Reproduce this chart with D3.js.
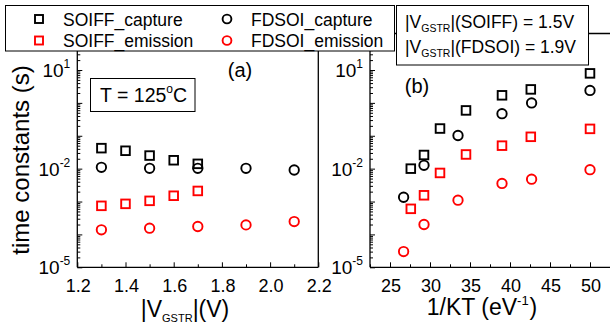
<!DOCTYPE html>
<html>
<head>
<meta charset="utf-8">
<script src="https://cdn.jsdelivr.net/npm/d3@7"></script>
<style>
  html, body { margin: 0; padding: 0; background: #fff; }
  svg { display: block; font-family: Arial, "Liberation Sans", Helvetica, sans-serif; }
</style>
</head>
<body>
<svg id="chart" width="610" height="326"></svg>
<script>
// ---- (a) time constants vs |VGSTR| at T = 125 °C ----
const vgSoiffCap = [1.3, 1.4, 1.5, 1.6, 1.7];
const tauSoiffCapA = [0.042, 0.035, 0.025, 0.018, 0.014];
const vgFdsoiCap = [1.3, 1.5, 1.7, 1.9, 2.1];
const tauFdsoiCapA = [0.011, 0.0102, 0.0102, 0.0102, 0.0091];
const vgSoiffEm = [1.3, 1.4, 1.5, 1.6, 1.7];
const tauSoiffEmA = [7.4e-4, 8.5e-4, 1.05e-3, 1.5e-3, 2.1e-3];
const vgFdsoiEm = [1.3, 1.5, 1.7, 1.9, 2.1];
const tauFdsoiEmA = [1.38e-4, 1.55e-4, 1.74e-4, 1.95e-4, 2.45e-4];

// ---- (b) time constants vs 1/kT ----
const ktSoiff = [27.6, 29.25, 31.25, 34.5, 39.0, 42.6, 50.0];
const tauSoiffCapB = [0.010, 0.026, 0.166, 0.59, 1.7, 2.57, 7.9];
const tauSoiffEmB = [6.0e-4, 1.55e-3, 7.4e-3, 0.027, 0.050, 0.093, 0.162];
const ktFdsoi = [26.7, 29.25, 33.5, 39.0, 42.7, 50.0];
const tauFdsoiCapB = [1.35e-3, 0.0126, 0.102, 0.47, 1.0, 2.4];
const tauFdsoiEmB = [3.0e-5, 2.0e-4, 1.1e-3, 3.55e-3, 4.8e-3, 9.3e-3];

// axis ticks
const xTicksA = [1.2, 1.4, 1.6, 1.8, 2.0, 2.2];
const xMinorA = [1.3, 1.5, 1.7, 1.9, 2.1];
const xTicksB = [25, 30, 35, 40, 45, 50];
const xMinorB = [22.5, 27.5, 32.5, 37.5, 42.5, 47.5, 52.5];
const yLabelExps = [1, -2, -5];

const legendItems = [
  { label: "SOIFF_capture", shape: "square", color: "#000" },
  { label: "FDSOI_capture", shape: "circle", color: "#000" },
  { label: "SOIFF_emission", shape: "square", color: "#f00" },
  { label: "FDSOI_emission", shape: "circle", color: "#f00" }
];

const svg = d3.select("#chart");

const yTop = 33.5, yBot = 267.3;
const y = d3.scaleLog().domain([1e-5, Math.pow(10, 2.11)]).range([yBot, yTop]);
const xA = d3.scaleLinear().domain([1.2, 2.2]).range([77.3, 318.3]);
const xB = d3.scaleLinear().domain([22.5, 55]).range([370, 630]);

const majorY = d3.range(-5, 3).map(e => Math.pow(10, e));
const minorY = [];
d3.range(-5, 2).forEach(e => { for (let k = 2; k <= 9; k++) minorY.push(k * Math.pow(10, e)); });

function panel(x, xMajor, xMinor, right, fmt) {
  const g = svg.append("g");
  const x0 = x.range()[0];
  const x1 = Math.min(x.range()[1], 640);
  // frame
  g.append("line").attr("x1", x0).attr("x2", x1).attr("y1", yTop).attr("y2", yTop)
    .attr("stroke", "#000").attr("stroke-width", 1.3);
  if (right) g.append("line").attr("x1", x1).attr("x2", x1).attr("y1", yTop).attr("y2", yBot)
    .attr("stroke", "#000").attr("stroke-width", 1.3);
  // y ticks (inward)
  g.append("g").attr("transform", `translate(${x0},0)`)
    .call(d3.axisRight(y).tickValues(majorY).tickSize(5).tickFormat(""))
    .call(s => s.select(".domain").remove());
  g.append("g").attr("transform", `translate(${x0},0)`)
    .call(d3.axisRight(y).tickValues(minorY).tickSize(3).tickFormat(""))
    .call(s => s.select(".domain").remove());
  // x ticks (inward)
  g.append("g").attr("transform", `translate(0,${yBot})`)
    .call(d3.axisTop(x).tickValues(xMajor).tickSize(5).tickFormat(""))
    .call(s => s.select(".domain").remove());
  g.append("g").attr("transform", `translate(0,${yBot})`)
    .call(d3.axisTop(x).tickValues(xMinor).tickSize(3).tickFormat(""))
    .call(s => s.select(".domain").remove());
  g.selectAll(".tick line").attr("stroke-width", 1);
  // axis lines
  g.append("line").attr("x1", x0).attr("x2", x0).attr("y1", yTop).attr("y2", yBot)
    .attr("stroke", "#000").attr("stroke-width", 1.3);
  g.append("line").attr("x1", x0).attr("x2", x1).attr("y1", yBot).attr("y2", yBot)
    .attr("stroke", "#000").attr("stroke-width", 1.3);
  // x tick labels
  g.selectAll(".xl").data(xMajor).enter().append("text")
    .attr("x", d => x(d) + 1).attr("y", 291.5).attr("text-anchor", "middle")
    .attr("font-size", 18)
    .text(fmt);
  // y tick labels 10^n
  yLabelExps.forEach(e => {
    const t = g.append("text").attr("x", x0 - 7).attr("y", y(Math.pow(10, e)) + 7)
      .attr("text-anchor", "end").attr("font-size", 19);
    t.append("tspan").text("10");
    t.append("tspan").attr("font-size", 12).attr("dy", -9).text(e);
  });
  return g;
}

panel(xA, xTicksA, xMinorA, true, d => d.toFixed(1));
panel(xB, xTicksB, xMinorB, false, d => String(d));

function drawSeries(x, xs, ys, shape, color) {
  const pts = xs.map((v, i) => [x(v), y(ys[i])]);
  if (shape === "square") {
    svg.append("g").selectAll("rect").data(pts).enter().append("rect")
      .attr("x", d => d[0] - 4.3).attr("y", d => d[1] - 4.3)
      .attr("width", 8.6).attr("height", 8.6)
      .attr("fill", "none").attr("stroke", color).attr("stroke-width", 1.9);
  } else {
    svg.append("g").selectAll("circle").data(pts).enter().append("circle")
      .attr("cx", d => d[0]).attr("cy", d => d[1]).attr("r", 4.7)
      .attr("fill", "none").attr("stroke", color).attr("stroke-width", 1.9);
  }
}

drawSeries(xA, vgSoiffCap, tauSoiffCapA, "square", "#000");
drawSeries(xA, vgFdsoiCap, tauFdsoiCapA, "circle", "#000");
drawSeries(xA, vgSoiffEm, tauSoiffEmA, "square", "#f00");
drawSeries(xA, vgFdsoiEm, tauFdsoiEmA, "circle", "#f00");
drawSeries(xB, ktSoiff, tauSoiffCapB, "square", "#000");
drawSeries(xB, ktFdsoi, tauFdsoiCapB, "circle", "#000");
drawSeries(xB, ktSoiff, tauSoiffEmB, "square", "#f00");
drawSeries(xB, ktFdsoi, tauFdsoiEmB, "circle", "#f00");

// panel tags
svg.append("text").attr("x", 240).attr("y", 77).attr("text-anchor", "middle")
  .attr("font-size", 20).text("(a)");
svg.append("text").attr("x", 417).attr("y", 93).attr("text-anchor", "middle")
  .attr("font-size", 20).text("(b)");

// temperature box
svg.append("rect").attr("x", 90.5).attr("y", 78.5).attr("width", 104.5).attr("height", 33)
  .attr("fill", "#fff").attr("stroke", "#000").attr("stroke-width", 1);
const tt = svg.append("text").attr("x", 100).attr("y", 102).attr("font-size", 19.5);
tt.append("tspan").text("T = 125");
tt.append("tspan").attr("font-size", 12).attr("dy", -9).text("o");
tt.append("tspan").attr("dy", 9).text("C");

// axis titles
svg.append("text").attr("transform", "translate(29,160) rotate(-90)")
  .attr("text-anchor", "middle").attr("font-size", 24).text("time constants (s)");
const xtA = svg.append("text").attr("x", 185).attr("y", 317).attr("text-anchor", "middle")
  .attr("font-size", 23);
xtA.append("tspan").text("|V");
xtA.append("tspan").attr("font-size", 11).attr("dy", 5).text("GSTR");
xtA.append("tspan").attr("dy", -5).text("|(V)");
const xtB = svg.append("text").attr("x", 482).attr("y", 315).attr("text-anchor", "middle")
  .attr("font-size", 23);
xtB.append("tspan").text("1/KT (eV");
xtB.append("tspan").attr("font-size", 13).attr("dy", -10).text("-1");
xtB.append("tspan").attr("dy", 10).attr("dx", 1).text(")");

// legend
svg.append("rect").attr("x", 5.5).attr("y", 5.5).attr("width", 389).attr("height", 45.5)
  .attr("fill", "#fff").attr("stroke", "#000").attr("stroke-width", 1);
const legPos = [[39, 19], [227, 19], [39, 40.5], [227, 40.5]];
legendItems.forEach((it, i) => {
  const [lx, ly] = legPos[i];
  if (it.shape === "square") {
    svg.append("rect").attr("x", lx - 4).attr("y", ly - 4).attr("width", 8).attr("height", 8)
      .attr("fill", "none").attr("stroke", it.color).attr("stroke-width", 1.9);
  } else {
    svg.append("circle").attr("cx", lx).attr("cy", ly).attr("r", 4.4)
      .attr("fill", "none").attr("stroke", it.color).attr("stroke-width", 1.9);
  }
  svg.append("text").attr("x", lx + 24).attr("y", ly + 6.5).attr("font-size", 17.5).text(it.label);
});

// stress voltage box
svg.append("rect").attr("x", 396.5).attr("y", 5.5).attr("width", 192).attr("height", 59.5)
  .attr("fill", "#fff").attr("stroke", "#000").attr("stroke-width", 1);
[["SOIFF", "1.5V", 28], ["FDSOI", "1.9V", 53]].forEach(([dev, v, by]) => {
  const t = svg.append("text").attr("x", 405).attr("y", by).attr("font-size", 17.5);
  t.append("tspan").text("|V");
  t.append("tspan").attr("font-size", 10.5).attr("dy", 4).text("GSTR");
  t.append("tspan").attr("dy", -4).text(`|(${dev}) = ${v}`);
});
</script>
</body>
</html>
